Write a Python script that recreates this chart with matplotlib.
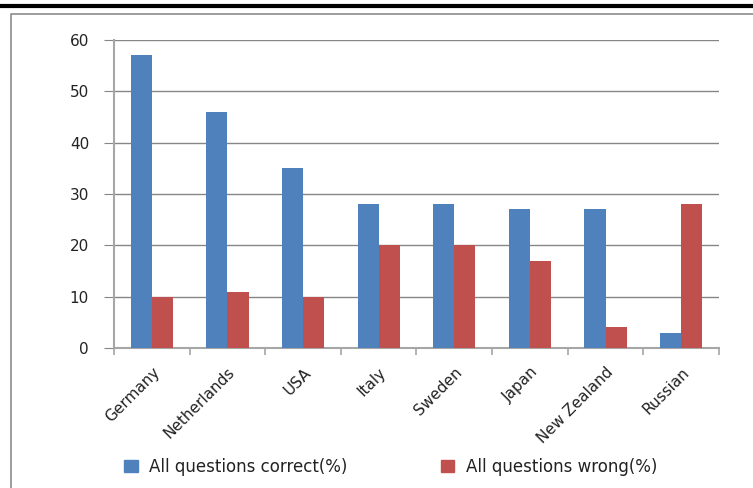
import matplotlib.pyplot as plt
import numpy as np
from matplotlib.lines import Line2D
from matplotlib.patches import Rectangle

# Survey results by country
countries = ["Germany", "Netherlands", "USA", "Italy", "Sweden", "Japan", "New Zealand", "Russian"]
all_correct = [57, 46, 35, 28, 28, 27, 27, 3]
all_wrong = [10, 11, 10, 20, 20, 17, 4, 28]
series_names = ["All questions correct(%)", "All questions wrong(%)"]

blue = "#4F81BD"
red = "#C0504D"
grid_grey = "#868686"

fig = plt.figure(figsize=(7.53, 4.88), dpi=100)
ax = fig.add_axes([0.1514, 0.2869, 0.8034, 0.6311])

x = np.arange(len(countries))
w = 0.28
ax.bar(x - w / 2, all_correct, w, color=blue, label=series_names[0], zorder=3)
ax.bar(x + w / 2, all_wrong, w, color=red, label=series_names[1], zorder=3)

ax.set_xlim(-0.5, len(countries) - 0.5)
ax.set_ylim(0, 60)
ax.set_yticks(range(0, 61, 10))
ax.yaxis.grid(True, color=grid_grey, linewidth=1.0, zorder=0)

for s in ["top", "right"]:
    ax.spines[s].set_visible(False)
ax.spines["left"].set_color("#a6a6a6")
ax.spines["bottom"].set_color("#a6a6a6")
ax.spines["left"].set_linewidth(1.5)
ax.spines["bottom"].set_linewidth(1.5)

ax.tick_params(axis="y", length=7, color=grid_grey, pad=11, labelsize=11, labelcolor="#222222")

# category separators as x tick marks, labels on the category centres
ax.set_xticks(np.arange(-0.5, len(countries), 1.0), minor=True)
ax.set_xticks(x)
ax.set_xticklabels(countries, rotation=45, ha="right", rotation_mode="anchor", fontsize=11, color="#222222")
ax.tick_params(axis="x", which="major", length=0, pad=12)
ax.tick_params(axis="x", which="minor", length=5, color="#a6a6a6", width=1.2)

# legend under the plot
handles = [Rectangle((0, 0), 1, 1, color=blue), Rectangle((0, 0), 1, 1, color=red)]
fig.legend(handles, series_names, loc="center left", bbox_to_anchor=(0.145, 0.043), ncol=2,
           frameon=False, fontsize=12, handlelength=0.8, handleheight=0.7,
           columnspacing=5.6, handletextpad=0.7, labelcolor="#222222")

# page rule and chart frame
fig.add_artist(Line2D([0, 1], [1 - 6 / 488, 1 - 6 / 488], color="black", linewidth=3))
fig.add_artist(Line2D([11 / 753, 11 / 753, 1], [0, 1 - 14 / 488, 1 - 14 / 488], color="#8c8c8c", linewidth=1.2))

fig.savefig("out.png", dpi=100)
